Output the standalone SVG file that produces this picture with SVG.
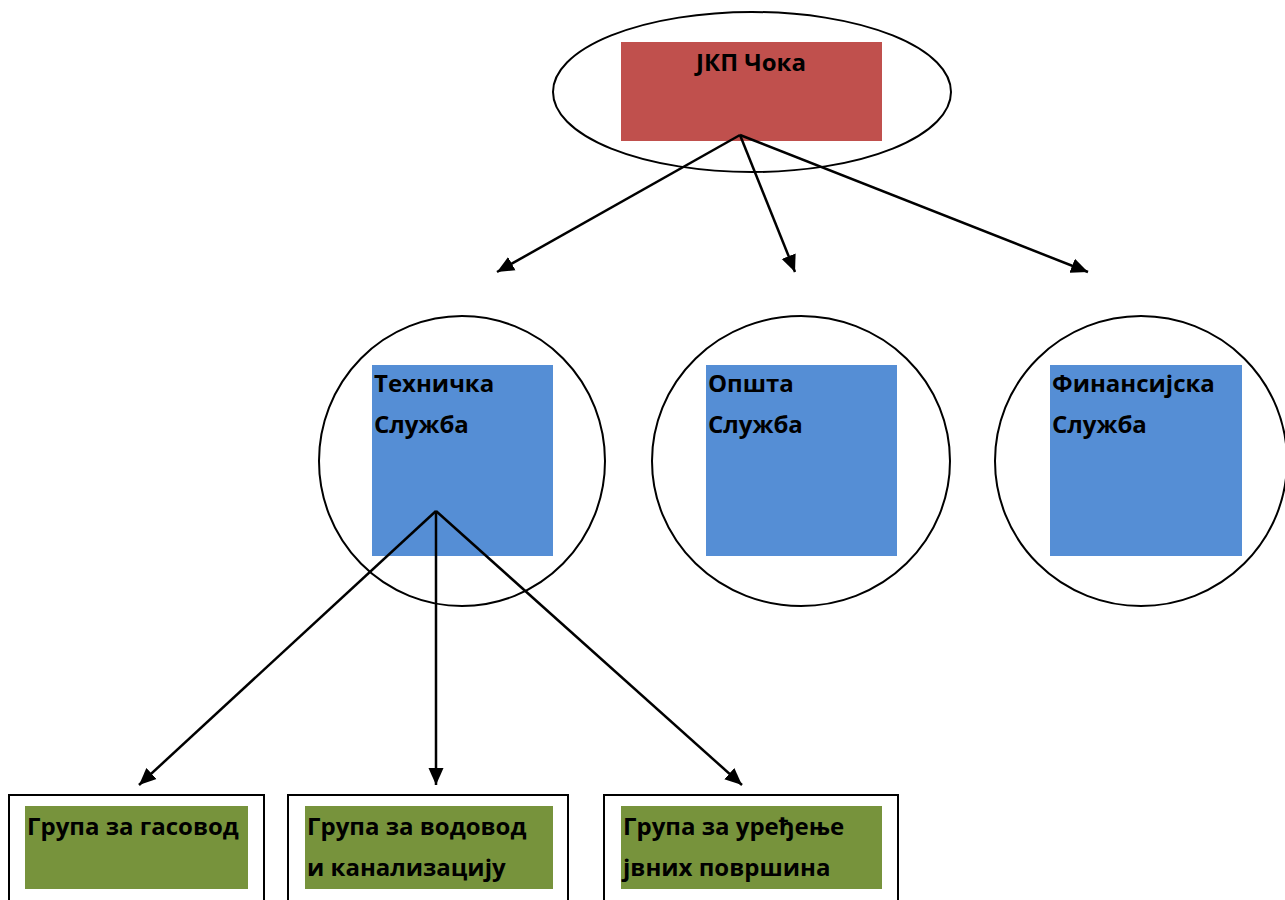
<svg xmlns="http://www.w3.org/2000/svg" width="1285" height="900" viewBox="0 0 1285 900">
<style>
.outline{fill:#fff;stroke:#000;stroke-width:2}
.red{fill:#C0504D}
.blue{fill:#558ED5}
.green{fill:#77933C}
.t{font-family:"Open Sans","Liberation Sans",Arial,sans-serif;font-weight:bold;font-size:24px;fill:#000}
.conn{stroke:#000;stroke-width:2.5;fill:none;marker-end:url(#ah)}
</style>
<defs>
<marker id="ah" markerUnits="userSpaceOnUse" markerWidth="18" markerHeight="16" refX="17" refY="8" orient="auto">
<path d="M0,0.5 L17,8 L0,15.5 Z" fill="#000"/>
</marker>
</defs>
<rect width="1285" height="900" fill="#fff"/>
<g id="node-jkp">
<ellipse class="outline" cx="752" cy="92" rx="199" ry="80"/>
<rect class="red" x="621" y="42" width="261" height="99"/>
<text class="t" x="751" y="71" text-anchor="middle">ЈКП Чока</text>
</g>
<g id="node-tehnicka">
<ellipse class="outline" cx="462" cy="461" rx="143" ry="145"/>
<rect class="blue" x="372" y="365" width="181" height="191"/>
<text class="t" x="374" y="392">Техничка</text>
<text class="t" x="374" y="433">Служба</text>
</g>
<g id="node-opsta">
<ellipse class="outline" cx="801" cy="461" rx="149" ry="145"/>
<rect class="blue" x="706" y="365" width="191" height="191"/>
<text class="t" x="708" y="392">Општа</text>
<text class="t" x="708" y="433">Служба</text>
</g>
<g id="node-finansijska">
<ellipse class="outline" cx="1141" cy="461" rx="146" ry="145"/>
<rect class="blue" x="1050" y="365" width="192" height="191"/>
<text class="t" x="1052" y="392">Финансијска</text>
<text class="t" x="1052" y="433">Служба</text>
</g>
<g id="node-gasovod">
<rect class="outline" x="9" y="795" width="255" height="120"/>
<rect class="green" x="25" y="806" width="223" height="83"/>
<text class="t" x="27" y="835">Група за гасовод</text>
</g>
<g id="node-vodovod">
<rect class="outline" x="288" y="795" width="280" height="120"/>
<rect class="green" x="305" y="806" width="248" height="83"/>
<text class="t" x="307" y="835">Група за водовод</text>
<text class="t" x="307" y="876">и канализацију</text>
</g>
<g id="node-uredjenje">
<rect class="outline" x="604" y="795" width="294" height="120"/>
<rect class="green" x="621" y="806" width="261" height="83"/>
<text class="t" x="623" y="835">Група за уређење</text>
<text class="t" x="623" y="876">јвних површина</text>
</g>
<g id="connectors">
<line class="conn" x1="740" y1="135" x2="497" y2="272"/>
<line class="conn" x1="740" y1="135" x2="795" y2="272"/>
<line class="conn" x1="740" y1="135" x2="1088" y2="272"/>
<line class="conn" x1="436" y1="511" x2="139" y2="785"/>
<line class="conn" x1="436" y1="511" x2="436" y2="785"/>
<line class="conn" x1="436" y1="511" x2="742" y2="785"/>
</g>
</svg>
